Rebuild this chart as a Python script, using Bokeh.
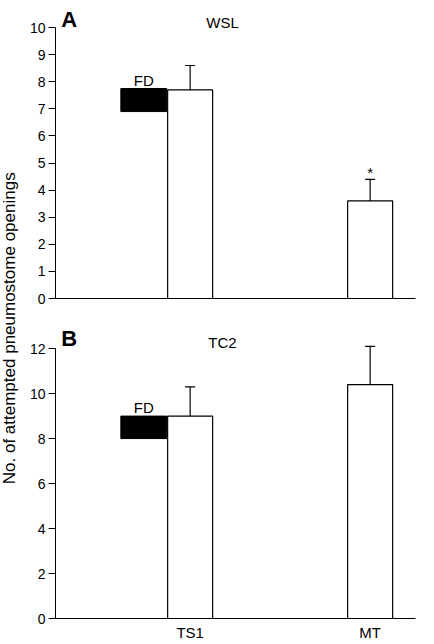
import math
from bokeh.plotting import figure
from bokeh.models import (Range1d, FixedTicker, Whisker, TeeHead, ColumnDataSource,
                          Label)
from bokeh.layouts import row, column
from bokeh.embed import file_html
from bokeh.resources import INLINE

# Experimental conditions on the x axis
categories = ["TS1", "MT"]

# Panel A (WSL): mean attempted openings and upper SEM bound
wsl_means = [7.7, 3.6]
wsl_upper = [8.6, 4.4]
wsl_fd = [6.9, 7.75]          # FD marker extent (bottom, top)

# Panel B (TC2)
tc2_means = [9.0, 10.4]
tc2_upper = [10.3, 12.1]
tc2_fd = [8.0, 9.0]

wsl_ticks = list(range(0, 11))
tc2_ticks = list(range(0, 13, 2))

FONT = "Liberation Sans"
BAR_W = 0.25
X_RANGE = (-0.748, 1.252)


def style_axes(p, yticks, show_labels):
    p.xgrid.visible = False
    p.ygrid.visible = False
    p.outline_line_color = None
    yax = p.yaxis[0]
    yax.ticker = FixedTicker(ticks=yticks)
    yax.bounds = (yticks[0], yticks[-1])
    yax.major_tick_out = 7
    yax.major_tick_in = 0
    yax.minor_tick_line_color = None
    yax.major_label_standoff = 3
    yax.major_label_text_font = FONT
    yax.major_label_text_font_size = "14px"
    yax.major_label_text_color = "black"
    yax.axis_line_color = "black"
    yax.major_tick_line_color = "black"
    xax = p.xaxis[0]
    xax.major_tick_out = 0
    xax.major_tick_in = 0
    xax.minor_tick_line_color = None
    xax.axis_line_color = "black"
    xax.major_label_text_font = FONT
    xax.major_label_text_font_size = "15px"
    xax.major_label_text_color = "black"
    xax.major_label_standoff = 5
    if show_labels:
        xax.ticker = FixedTicker(ticks=list(range(len(categories))))
        xax.major_label_overrides = {i: c for i, c in enumerate(categories)}
    else:
        xax.ticker = FixedTicker(ticks=[])


def panel(height, border_bottom, y_end, yticks, means, upper, fd,
          letter, letter_y, name, name_y, show_labels, star=False):
    # The frame reaches the top of the canvas so the headings sit inside it;
    # the axis line itself stops at the last tick via its bounds.
    p = figure(width=414, height=height, output_backend="svg",
               toolbar_location=None, x_range=Range1d(*X_RANGE),
               y_range=Range1d(0, y_end), min_border_left=35,
               min_border_right=19, min_border_top=0,
               min_border_bottom=border_bottom, background_fill_color="white",
               border_fill_color="white")
    style_axes(p, yticks, show_labels)

    xs = list(range(len(categories)))
    src = ColumnDataSource(dict(x=xs, top=means, upper=upper))
    p.vbar(x="x", top="top", bottom=0, width=BAR_W, source=src,
           fill_color="white", line_color="black", line_width=1.2)
    p.add_layout(Whisker(source=src, base="x", lower="top", upper="upper",
                         dimension="height", line_color="black", line_width=1.2,
                         lower_head=None,
                         upper_head=TeeHead(size=10, line_color="black",
                                            line_width=1.2)))

    # FD marker block beside the TS1 bar
    fd_left = xs[0] - BAR_W / 2 - 0.26
    fd_right = xs[0] - BAR_W / 2 - 0.005
    p.quad(left=[fd_left], right=[fd_right], bottom=[fd[0]], top=[fd[1]],
           fill_color="black", line_color="black")
    p.add_layout(Label(x=(fd_left + fd_right) / 2, y=fd[1], text="FD",
                       text_align="center", text_baseline="bottom",
                       text_font=FONT, text_font_size="15px",
                       text_color="black"))

    p.add_layout(Label(x=-0.716, y=letter_y, text=letter, text_align="left",
                       text_baseline="middle", text_font=FONT,
                       text_font_size="22px", text_font_style="bold",
                       text_color="black"))
    p.add_layout(Label(x=0.18, y=name_y, text=name, text_align="center",
                       text_baseline="middle", text_font=FONT,
                       text_font_size="15px", text_color="black"))
    if star:
        p.add_layout(Label(x=xs[1], y=upper[1], y_offset=7, text="*",
                           text_align="center", text_baseline="middle",
                           text_font=FONT, text_font_size="15px",
                           text_color="black"))
    return p


pa = panel(320, 22, 11.0, wsl_ticks, wsl_means, wsl_upper, wsl_fd,
           "A", 10.3, "WSL", 10.18, show_labels=False, star=True)
pb = panel(324, 26, 13.25, tc2_ticks, tc2_means, tc2_upper, tc2_fd,
           "B", 12.46, "TC2", 12.25, show_labels=True)

# Shared y-axis title spanning both panels
lab = figure(width=20, height=644, output_backend="svg", toolbar_location=None,
             x_range=Range1d(0, 1), y_range=Range1d(0, 1), min_border=0,
             background_fill_color="white", border_fill_color="white")
lab.axis.visible = False
lab.xgrid.visible = False
lab.ygrid.visible = False
lab.outline_line_color = None
lab.add_layout(Label(x=0.45, y=0.491, text="No. of attempted pneumostome openings",
                     angle=math.pi / 2, text_align="center",
                     text_baseline="middle", text_font=FONT,
                     text_font_size="17px", text_color="black"))

layout = row(lab, column(pa, pb))
open("out.html", "w").write(file_html(layout, INLINE))
